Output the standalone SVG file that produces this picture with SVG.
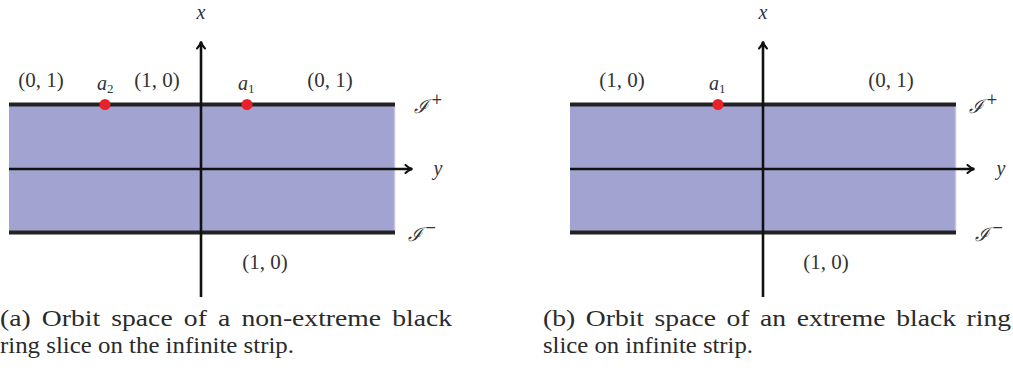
<svg xmlns="http://www.w3.org/2000/svg" width="1013" height="371" viewBox="0 0 1013 371">
<style>
.strip{fill:#a3a3d1}
.rim{stroke:#c3c3e3;stroke-width:1.5}
.edge{stroke:#222;stroke-width:4;fill:none}
.axis{stroke:#111;stroke-width:2.6;fill:none}
.dot{fill:#e8212b}
.t{font-family:"Liberation Serif",serif;font-size:21px;fill:#333}
.m{font-family:"Liberation Serif",serif;font-style:italic;font-size:20px;fill:#333}
.s{font-size:13px}
.cal{font-family:"DejaVu Serif","Liberation Serif",serif;font-style:italic;font-size:19px;fill:#333}
.cap{font-family:"Liberation Serif",serif;font-size:22.5px;fill:#2a2a2a}
</style>
<defs>
<marker id="arr" viewBox="0 0 10 10" refX="8" refY="5" markerWidth="10" markerHeight="10" markerUnits="userSpaceOnUse" orient="auto">
<path d="M1.5,1 Q5,4.5 8.5,5 Q5,5.5 1.5,9" fill="none" stroke="#111" stroke-width="2" stroke-linecap="round"/>
</marker>
</defs>
<g id="panelA">
<rect class="strip" x="9" y="104" width="386" height="129"/>
<line class="rim" x1="394.5" y1="106" x2="394.5" y2="231"/>
<line class="edge" x1="9" y1="104.5" x2="395" y2="104.5"/>
<line class="edge" x1="9" y1="232.5" x2="395" y2="232.5"/>
<g id="axesA">
<line class="axis" x1="9" y1="169" x2="412" y2="169" marker-end="url(#arr)"/>
<line class="axis" x1="201" y1="297" x2="201" y2="42" marker-end="url(#arr)"/>
</g>
<circle id="a2dotA" class="dot" cx="105" cy="104.5" r="5.5"/>
<circle id="a1dotA" class="dot" cx="247" cy="104.5" r="5.5"/>
<text class="m" x="201" y="19" text-anchor="middle">x</text>
<text class="m" x="438" y="175" text-anchor="middle">y</text>
<text class="t" x="41" y="87" text-anchor="middle">(0, 1)</text>
<text class="t" x="157" y="87" text-anchor="middle">(1, 0)</text>
<text class="t" x="330" y="87" text-anchor="middle">(0, 1)</text>
<text class="t" x="265" y="269" text-anchor="middle">(1, 0)</text>
<text class="m" x="97" y="90" font-size="15">a<tspan class="s" font-style="normal" dy="3">2</tspan></text>
<text class="m" x="238" y="90" font-size="15">a<tspan class="s" font-style="normal" dy="3">1</tspan></text>
<text class="cal" x="414" y="113">ℐ<tspan font-size="14" font-style="normal" dx="3" dy="-9">+</tspan></text>
<text class="cal" x="408" y="241">ℐ<tspan font-size="14" font-style="normal" dx="3" dy="-9">−</tspan></text>
<text class="cap" x="0" y="326" word-spacing="3.5" textLength="452" lengthAdjust="spacingAndGlyphs">(a) Orbit space of a non-extreme black</text>
<text class="cap" x="0" y="353" textLength="294" lengthAdjust="spacingAndGlyphs">ring slice on the infinite strip.</text>
</g>
<g id="panelB">
<rect class="strip" x="570" y="104" width="386" height="129"/>
<line class="rim" x1="955.5" y1="106" x2="955.5" y2="231"/>
<line class="edge" x1="570" y1="104.5" x2="956" y2="104.5"/>
<line class="edge" x1="570" y1="232.5" x2="956" y2="232.5"/>
<g id="axesB">
<line class="axis" x1="570" y1="169" x2="974" y2="169" marker-end="url(#arr)"/>
<line class="axis" x1="763" y1="297" x2="763" y2="42" marker-end="url(#arr)"/>
</g>
<circle id="a1dotB" class="dot" cx="718" cy="104.5" r="5.5"/>
<text class="m" x="763" y="19" text-anchor="middle">x</text>
<text class="m" x="1001" y="175" text-anchor="middle">y</text>
<text class="t" x="622" y="87" text-anchor="middle">(1, 0)</text>
<text class="t" x="891" y="87" text-anchor="middle">(0, 1)</text>
<text class="t" x="826" y="269" text-anchor="middle">(1, 0)</text>
<text class="m" x="709" y="90" font-size="15">a<tspan class="s" font-style="normal" dy="3">1</tspan></text>
<text class="cal" x="969" y="113">ℐ<tspan font-size="14" font-style="normal" dx="3" dy="-9">+</tspan></text>
<text class="cal" x="975" y="241">ℐ<tspan font-size="14" font-style="normal" dx="3" dy="-9">−</tspan></text>
<text class="cap" x="543" y="326" word-spacing="3" textLength="468" lengthAdjust="spacingAndGlyphs">(b) Orbit space of an extreme black ring</text>
<text class="cap" x="543" y="353" textLength="210" lengthAdjust="spacingAndGlyphs">slice on infinite strip.</text>
</g>
</svg>
